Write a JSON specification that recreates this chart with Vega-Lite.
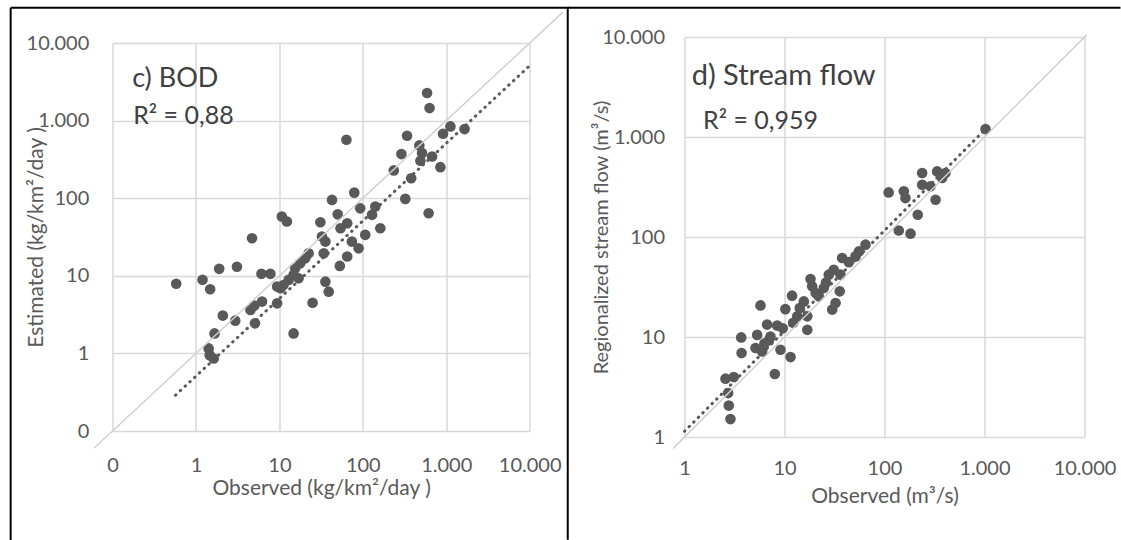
{
  "$schema": "https://vega.github.io/schema/vega-lite/v6.json",
  "padding": {"left": 9.5, "top": 6, "right": 0, "bottom": 0},
  "background": "white",
  "bounds": "flush",
  "center": true,
  "spacing": 154,
  "config": {
    "locale": {"number": {"decimal": ",", "thousands": ".", "grouping": [3], "currency": ["", ""]}},
    "view": {"stroke": null},
    "font": "Lato",
    "axis": {
      "grid": true, "gridColor": "#d9d9d9", "gridWidth": 1.5,
      "domain": false, "ticks": false, "tickSize": 0,
      "labelFlush": false, "labelOverlap": false,
      "labelFont": "Lato", "labelFontSize": 20, "labelColor": "#595959",
      "titleFont": "Lato", "titleFontSize": 21, "titleFontWeight": "normal", "titleColor": "#595959"
    }
  },
  "datasets": {
    "bod": [
      {"obs": 0.58, "est": 7.9}, {"obs": 1.9, "est": 12.3}, {"obs": 3.1, "est": 13.1}, {"obs": 1.2, "est": 8.9},
      {"obs": 1.48, "est": 6.7}, {"obs": 6.1, "est": 10.6}, {"obs": 7.8, "est": 10.6}, {"obs": 2.1, "est": 3.07},
      {"obs": 2.96, "est": 2.64}, {"obs": 1.67, "est": 1.81}, {"obs": 1.42, "est": 1.16}, {"obs": 1.46, "est": 0.95},
      {"obs": 1.63, "est": 0.86}, {"obs": 5.1, "est": 2.44}, {"obs": 4.5, "est": 3.63}, {"obs": 5.0, "est": 4.12},
      {"obs": 6.2, "est": 4.65}, {"obs": 9.4, "est": 4.42}, {"obs": 14.8, "est": 1.81}, {"obs": 10.3, "est": 6.9},
      {"obs": 10.7, "est": 58}, {"obs": 12.3, "est": 50}, {"obs": 4.7, "est": 30.5}, {"obs": 42.7, "est": 95},
      {"obs": 79, "est": 118}, {"obs": 50, "est": 62}, {"obs": 31, "est": 49}, {"obs": 93, "est": 74},
      {"obs": 129, "est": 61}, {"obs": 141, "est": 78}, {"obs": 54, "est": 41}, {"obs": 65, "est": 47.6},
      {"obs": 107, "est": 33.7}, {"obs": 162, "est": 41}, {"obs": 32.4, "est": 32}, {"obs": 35.6, "est": 27.6},
      {"obs": 74, "est": 27.6}, {"obs": 89, "est": 22.6}, {"obs": 65, "est": 17.7}, {"obs": 34, "est": 19.5},
      {"obs": 53, "est": 13.4}, {"obs": 22.4, "est": 19.5}, {"obs": 20.4, "est": 16.8}, {"obs": 17.8, "est": 14.5},
      {"obs": 15.5, "est": 12.5}, {"obs": 14.8, "est": 10.3}, {"obs": 12.9, "est": 8.85}, {"obs": 11.2, "est": 7.6},
      {"obs": 9.4, "est": 7.26}, {"obs": 35.6, "est": 8.4}, {"obs": 17, "est": 9.3}, {"obs": 39, "est": 6.25},
      {"obs": 25, "est": 4.5}, {"obs": 589, "est": 2265}, {"obs": 631, "est": 1449}, {"obs": 63.6, "est": 567},
      {"obs": 339, "est": 638}, {"obs": 1122, "est": 842}, {"obs": 915, "est": 678}, {"obs": 1657, "est": 777},
      {"obs": 476, "est": 479}, {"obs": 290, "est": 370}, {"obs": 513, "est": 381}, {"obs": 490, "est": 304},
      {"obs": 676, "est": 345}, {"obs": 850, "est": 251}, {"obs": 235, "est": 228}, {"obs": 380, "est": 181},
      {"obs": 323, "est": 98}, {"obs": 615, "est": 64}
    ],
    "bod_11": [{"obs": 0.06, "est": 0.06}, {"obs": 25000, "est": 25000}],
    "bod_trend": [{"obs": 0.57, "est": 0.29}, {"obs": 10000, "est": 5100}],
    "flow": [
      {"obs": 5.75, "est": 20.7}, {"obs": 11.9, "est": 25.9}, {"obs": 15.6, "est": 22.7}, {"obs": 10.2, "est": 19},
      {"obs": 13.4, "est": 16.1}, {"obs": 6.7, "est": 13.3}, {"obs": 8.45, "est": 13}, {"obs": 5.33, "est": 10.5},
      {"obs": 7.24, "est": 10.1}, {"obs": 3.69, "est": 9.9}, {"obs": 5.13, "est": 7.76}, {"obs": 5.98, "est": 7.18},
      {"obs": 3.72, "est": 6.92}, {"obs": 9.12, "est": 7.46}, {"obs": 11.5, "est": 6.3}, {"obs": 8.0, "est": 4.27},
      {"obs": 2.57, "est": 3.83}, {"obs": 3.11, "est": 3.98}, {"obs": 2.73, "est": 2.75}, {"obs": 2.77, "est": 2.06},
      {"obs": 2.88, "est": 1.51}, {"obs": 16.9, "est": 11.8}, {"obs": 64.6, "est": 83.8}, {"obs": 55.4, "est": 71.8},
      {"obs": 51.3, "est": 64}, {"obs": 37.7, "est": 61.7}, {"obs": 31.1, "est": 47.1}, {"obs": 36.3, "est": 42},
      {"obs": 27.7, "est": 42}, {"obs": 18.2, "est": 38}, {"obs": 18.9, "est": 32.1}, {"obs": 24.7, "est": 30.9},
      {"obs": 22, "est": 25.5}, {"obs": 35.7, "est": 28.6}, {"obs": 32.4, "est": 21.9}, {"obs": 30, "est": 18.8},
      {"obs": 16.9, "est": 16.1}, {"obs": 110, "est": 279}, {"obs": 156, "est": 286}, {"obs": 162, "est": 245},
      {"obs": 238, "est": 437}, {"obs": 336, "est": 453}, {"obs": 407, "est": 437}, {"obs": 238, "est": 333},
      {"obs": 288, "est": 321}, {"obs": 377, "est": 389}, {"obs": 324, "est": 236}, {"obs": 215, "est": 167},
      {"obs": 139, "est": 116}, {"obs": 182, "est": 108}, {"obs": 1023, "est": 1202},
      {"obs": 6.3, "est": 8.6}, {"obs": 7.0, "est": 9.3}, {"obs": 9.6, "est": 12.2}, {"obs": 12.2, "est": 13.9},
      {"obs": 14.2, "est": 19.5}, {"obs": 20.5, "est": 27.5}, {"obs": 26, "est": 35}, {"obs": 44, "est": 56}
    ],
    "flow_11": [{"obs": 0.77, "est": 0.77}, {"obs": 10500, "est": 10500}],
    "flow_trend": [{"obs": 1, "est": 1.14}, {"obs": 1100, "est": 1290}]
  },
  "hconcat": [
    {
      "width": 417.2,
      "height": 388,
      "layer": [
        {
          "data": {"name": "bod"},
          "mark": {"type": "circle", "size": 113, "color": "#595959", "opacity": 1},
          "encoding": {
            "x": {"field": "obs", "type": "quantitative",
              "scale": {"type": "log", "domain": [0.1, 10000], "nice": false},
              "axis": {"title": "Observed (kg/km²/day )", "values": [0.1, 1, 10, 100, 1000, 9999.99], "format": ",.0f", "labelPadding": 24, "titlePadding": 2}},
            "y": {"field": "est", "type": "quantitative",
              "scale": {"type": "log", "domain": [0.1, 10000], "nice": false},
              "axis": {"title": "Estimated (kg/km²/day )", "values": [0.1, 1, 10, 100, 1000, 10000], "format": ",.0f", "labelPadding": 23.7, "titlePadding": -20}}
          }
        },
        {
          "data": {"name": "bod_11"},
          "mark": {"type": "line", "color": "#d0d0d0", "strokeWidth": 1.5, "clip": false},
          "encoding": {"x": {"field": "obs", "type": "quantitative"}, "y": {"field": "est", "type": "quantitative"}}
        },
        {
          "data": {"name": "bod_trend"},
          "mark": {"type": "line", "color": "#595959", "strokeWidth": 3, "strokeDash": [0.5, 6], "strokeCap": "round", "clip": false},
          "encoding": {"x": {"field": "obs", "type": "quantitative"}, "y": {"field": "est", "type": "quantitative"}}
        },
        {
          "data": {"values": [{}]},
          "mark": {"type": "text", "text": "c) BOD", "align": "left", "baseline": "alphabetic", "font": "Lato", "fontSize": 27, "color": "#404040"},
          "encoding": {"x": {"datum": 0.172, "type": "quantitative"}, "y": {"datum": 2710, "type": "quantitative"}}
        },
        {
          "data": {"values": [{}]},
          "mark": {"type": "text", "text": "R² = 0,88", "align": "left", "baseline": "alphabetic", "font": "Lato", "fontSize": 25, "color": "#404040"},
          "encoding": {"x": {"datum": 0.177, "type": "quantitative"}, "y": {"datum": 891, "type": "quantitative"}}
        },
        {
          "data": {"values": [{}]},
          "mark": {"type": "rule", "color": "#000000", "strokeWidth": 2, "clip": false},
          "encoding": {"x": {"datum": 0.006016, "type": "quantitative"}, "y": {"datum": 0.0039, "type": "quantitative"}, "y2": {"datum": 28540}}
        },
        {
          "data": {"values": [{}]},
          "mark": {"type": "rule", "color": "#000000", "strokeWidth": 2, "clip": false},
          "encoding": {"y": {"datum": 28540, "type": "quantitative"}, "x": {"datum": 0.006016, "type": "quantitative"}, "x2": {"datum": 29920}}
        }
      ]
    },
    {
      "width": 400,
      "height": 400,
      "layer": [
        {
          "data": {"name": "flow"},
          "mark": {"type": "circle", "size": 113, "color": "#595959", "opacity": 1},
          "encoding": {
            "x": {"field": "obs", "type": "quantitative",
              "scale": {"type": "log", "domain": [1, 10000], "nice": false},
              "axis": {"title": "Observed (m³/s)", "values": [1, 10, 100, 1000, 10000], "format": ",.0f", "labelPadding": 21, "titlePadding": 7}},
            "y": {"field": "est", "type": "quantitative",
              "scale": {"type": "log", "domain": [1, 10000], "nice": false},
              "axis": {"title": "Regionalized stream flow (m³/s)", "titleFontSize": 20, "values": [1, 10, 100, 1000, 10000], "format": ",.0f", "labelPadding": 20, "titlePadding": -10}}
          }
        },
        {
          "data": {"name": "flow_11"},
          "mark": {"type": "line", "color": "#d0d0d0", "strokeWidth": 1.5, "clip": false},
          "encoding": {"x": {"field": "obs", "type": "quantitative"}, "y": {"field": "est", "type": "quantitative"}}
        },
        {
          "data": {"name": "flow_trend"},
          "mark": {"type": "line", "color": "#595959", "strokeWidth": 3, "strokeDash": [0.5, 6], "strokeCap": "round", "clip": false},
          "encoding": {"x": {"field": "obs", "type": "quantitative"}, "y": {"field": "est", "type": "quantitative"}}
        },
        {
          "data": {"values": [{}]},
          "mark": {"type": "text", "text": "d) Stream flow", "align": "left", "baseline": "alphabetic", "font": "Lato", "fontSize": 29, "color": "#404040"},
          "encoding": {"x": {"datum": 1.18, "type": "quantitative"}, "y": {"datum": 3310, "type": "quantitative"}}
        },
        {
          "data": {"values": [{}]},
          "mark": {"type": "text", "text": "R² = 0,959", "align": "left", "baseline": "alphabetic", "font": "Lato", "fontSize": 25, "color": "#404040"},
          "encoding": {"x": {"datum": 1.53, "type": "quantitative"}, "y": {"datum": 1213, "type": "quantitative"}}
        },
        {
          "data": {"values": [{}]},
          "mark": {"type": "rule", "color": "#000000", "strokeWidth": 2, "clip": false},
          "encoding": {"x": {"datum": 0.068, "type": "quantitative"}, "y": {"datum": 0.094, "type": "quantitative"}, "y2": {"datum": 19634}}
        },
        {
          "data": {"values": [{}]},
          "mark": {"type": "rule", "color": "#000000", "strokeWidth": 2, "clip": false},
          "encoding": {"y": {"datum": 19634, "type": "quantitative"}, "x": {"datum": 0.068, "type": "quantitative"}, "x2": {"datum": 22900}}
        }
      ]
    }
  ]
}
